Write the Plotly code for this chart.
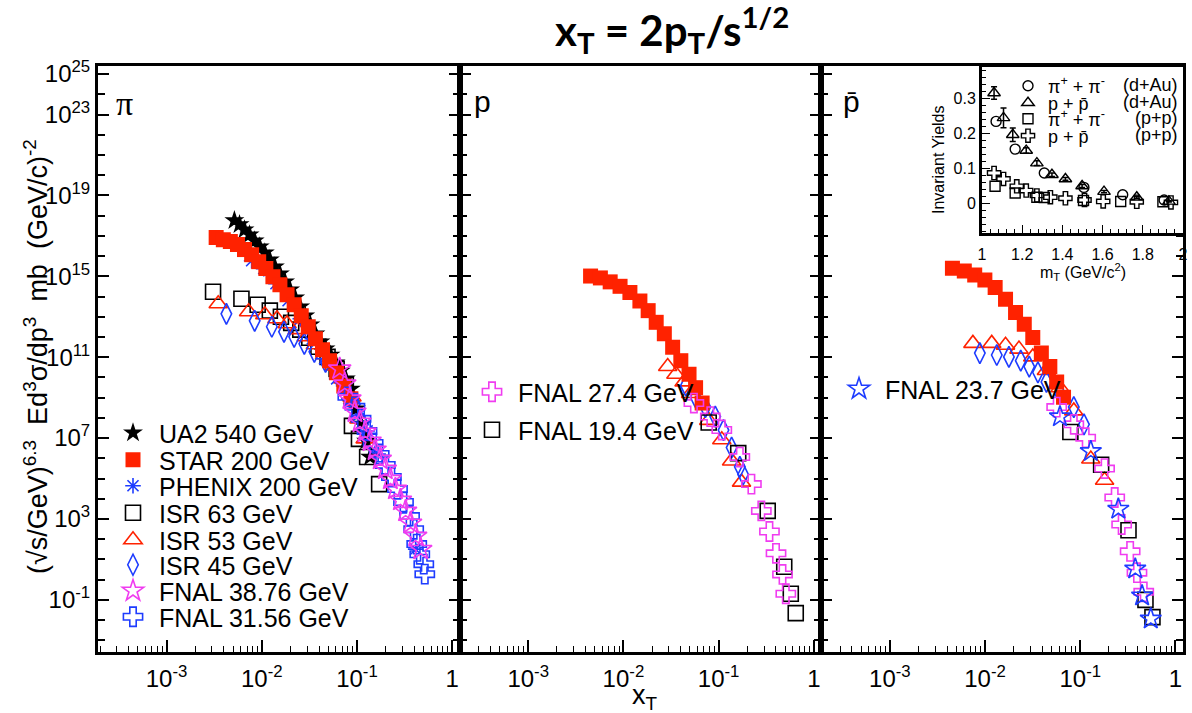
import plotly.graph_objects as go

# ---------------- data ----------------
# Panel 1 : pi
ua2_x = [5.16e-3, 5.84e-3, 6.59e-3, 7.45e-3, 8.43e-3, 9.53e-3, 1.077e-2, 1.216e-2, 1.374e-2, 1.552e-2,
         1.757e-2, 1.986e-2, 2.244e-2, 2.535e-2, 2.864e-2, 3.243e-2, 3.664e-2, 4.140e-2, 4.677e-2, 5.284e-2,
         5.98e-2, 6.76e-2, 7.64e-2, 8.63e-2, 9.75e-2, 0.1104, 0.1247, 0.1374]
ua2_y = [5.7e17, 3.6e17, 2.0e17, 1.15e17, 5.8e16, 2.9e16, 1.47e16, 6.6e15, 3.0e15, 1.35e15,
         5.4e14, 2.17e14, 8.7e13, 3.1e13, 1.12e13, 4.0e12, 1.44e12, 5.8e11, 2.6e11, 1.3e11,
         5.3e10, 2.1e10, 8.5e9, 2.7e9, 2.8e8, 5e7, 7.2e6, 1.16e6]

star_pi_x = [3.32e-3, 3.95e-3, 4.68e-3, 5.56e-3, 6.59e-3, 7.83e-3, 9.29e-3, 1.104e-2, 1.31e-2, 1.552e-2,
             1.845e-2, 2.19e-2, 2.60e-2, 3.08e-2, 3.66e-2, 4.35e-2, 5.16e-2, 6.12e-2, 7.28e-2, 8.63e-2]
star_pi_y = [8.2e16, 6.5e16, 5.2e16, 3.7e16, 2.1e16, 1.17e16, 5.3e15, 2.4e15, 9.5e14, 3.8e14,
             1.23e14, 3.9e13, 1.12e13, 3.2e12, 8.1e11, 2.3e11, 6.6e10, 1.68e10, 3.8e9, 8.7e8]

phenix_x = [7.83e-3, 1.05e-2, 1.41e-2, 1.89e-2, 2.54e-2, 3.40e-2, 4.57e-2, 6.12e-2, 8.22e-2, 0.1026, 0.128, 0.167, 0.414]
phenix_y = [5.9e15, 2.4e15, 4.3e14, 6.2e13, 7.9e12, 8.1e11, 8.3e10, 8.5e9, 8.7e8, 1.25e8, 2.25e7, 1.64e6, 32]

isr63_x = [3.08e-3, 6.12e-3, 9.06e-3, 1.216e-2, 1.59e-2, 2.04e-2, 2.54e-2, 3.16e-2, 3.94e-2, 4.91e-2,
           6.12e-2, 7.64e-2, 8.86e-2, 0.105, 0.128, 0.171]
isr63_y = [1.73e14, 7.8e13, 3.9e13, 2.0e13, 1.0e13, 5.0e12, 2.3e12, 9.1e11, 3.3e11, 1.04e11,
           2.65e10, 4.3e9, 4.0e7, 9.1e6, 1.16e6, 5.3e4]

isr53_x = [3.49e-3, 7.28e-3, 1.077e-2, 1.445e-2, 1.845e-2, 2.36e-2, 2.94e-2, 3.66e-2, 4.57e-2, 5.69e-2,
           7.10e-2, 8.86e-2, 0.105, 0.122]
isr53_y = [4.4e13, 1.77e13, 1.25e13, 7.9e12, 4.5e12, 2.3e12, 1.02e12, 4.1e11, 1.31e11, 3.7e10,
           8.5e9, 1.09e9, 8.9e7, 9.1e6]

isr45_x = [4.25e-3, 8.43e-3, 1.276e-2, 1.714e-2, 2.19e-2, 2.80e-2, 3.57e-2, 4.68e-2, 6.12e-2, 7.64e-2,
           9.53e-2, 0.116, 0.141]
isr45_y = [1.40e13, 6.3e12, 3.2e12, 1.8e12, 1.02e12, 4.6e11, 1.85e11, 5.9e10, 1.5e10, 3.4e9,
           4.9e8, 5.0e7, 5.1e6]

fnal38_x = [6.59e-2, 7.45e-2, 8.43e-2, 9.53e-2, 0.1077, 0.1216, 0.1374, 0.1552, 0.1757, 0.1986,
            0.2244, 0.2535, 0.2864, 0.3243, 0.3664, 0.4140, 0.4677]
fnal38_y = [2.65e10, 4.8e9, 8.7e8, 1.97e8, 6.3e7, 2.0e7, 7.2e6, 2.6e6, 9.2e5, 2.95e5,
            9.4e4, 3.0e4, 8.6e3, 2.45e3, 6.3e2, 1.42e2, 32]

fnal31_x = [8.02e-2, 9.53e-2, 0.1104, 0.1276, 0.148, 0.1714, 0.1986, 0.230, 0.2667, 0.3083,
            0.357, 0.3945, 0.4246, 0.457, 0.5035, 0.516]
fnal31_y = [1.09e9, 3.5e8, 8.9e7, 2.25e7, 5.7e6, 1.64e6, 4.7e5, 1.19e5, 3.0e4, 6.9e3,
            1.39e3, 3.1e2, 57, 18, 5.8, 1.86]

# Panel 2 : p
star_p_x = [4.52e-3, 5.73e-3, 7.26e-3, 9.22e-3, 1.17e-2, 1.49e-2, 1.82e-2, 2.21e-2, 2.69e-2, 3.29e-2,
            4.01e-2, 4.89e-2, 5.73e-2, 6.71e-2]
star_p_y = [1.03e15, 8.3e14, 5.3e14, 3.2e14, 1.58e14, 6.0e13, 2.0e13, 5.3e12, 1.44e12, 3.1e11,
            6.7e10, 1.43e10, 3.1e9, 5.4e8]
isr53_p_x = [2.92e-2, 3.56e-2, 4.34e-2, 5.08e-2, 7.87e-2, 0.108, 0.137, 0.174]
isr53_p_y = [3.45e10, 1.43e10, 6.0e9, 1.6e9, 7.5e7, 8.3e6, 7.4e5, 6.6e4]
isr45_p_x = [4.52e-2, 5.73e-2, 7.26e-2, 9.22e-2, 0.1125, 0.137, 0.167, 0.181]
isr45_p_y = [3.9e9, 1.03e9, 3.4e8, 1.15e8, 2.5e7, 3.4e6, 3.8e5, 1.6e5]
fnal19_p_x = [7.87e-2, 0.1607, 0.328, 0.489, 0.573, 0.646]
fnal19_p_y = [5.9e7, 1.8e6, 2.5e3, 4.3, 0.2, 0.022]
fnal27_p_x = [5.5e-2, 8.18e-2, 0.108, 0.167, 0.221, 0.281, 0.342, 0.401, 0.469, 0.508]
fnal27_p_y = [5.4e8, 1.15e8, 2.5e7, 1.15e6, 5.3e4, 2.5e3, 2.4e2, 20, 1.8, 0.2]

# Panel 3 : pbar
star_pb_x = [4.54e-3, 6.05e-3, 7.78e-3, 9.95e-3, 1.276e-2, 1.64e-2, 2.09e-2, 2.58e-2, 3.17e-2, 3.90e-2,
             4.79e-2, 5.65e-2, 6.67e-2]
star_pb_y = [2.5e15, 1.83e15, 1.17e15, 6.6e14, 2.8e14, 7.4e13, 1.6e13, 4.3e12, 9.3e11, 1.6e11,
             3.45e10, 6.0e9, 1.03e9]
isr53_pb_x = [7.45e-3, 1.175e-2, 1.64e-2, 2.27e-2, 3.17e-2, 4.41e-2, 6.12e-2, 8.55e-2, 0.129, 0.180]
isr53_pb_y = [4.8e11, 4.8e11, 3.9e11, 2.5e11, 1.03e11, 2.2e10, 3.1e9, 2.2e8, 9.2e5, 8.2e4]
isr45_pb_x = [8.81e-3, 1.327e-2, 1.78e-2, 2.37e-2, 2.91e-2, 3.59e-2, 4.41e-2, 6.12e-2, 8.55e-2, 0.1094]
isr45_pb_y = [1.6e11, 1.28e11, 1.03e11, 6.7e10, 3.45e10, 1.78e10, 6.0e9, 1.6e9, 3.4e8, 4.8e7]
fnal27_pb_x = [5.65e-2, 8.55e-2, 0.114, 0.180, 0.230, 0.272, 0.334, 0.394, 0.464]
fnal27_pb_y = [3.4e8, 4.8e7, 1.04e7, 3.1e5, 1.15e4, 5.3e2, 25, 2.2, 0.25]
fnal19_pb_x = [7.87e-2, 0.1656, 0.321, 0.484, 0.573]
fnal19_pb_y = [2.0e7, 4.8e5, 2.75e2, 0.10, 0.014]
fnal23_pb_x = [6.12e-2, 0.129, 0.251, 0.378, 0.446, 0.550]
fnal23_pb_y = [1.15e8, 2.2e6, 3.1e3, 3.4, 0.16, 0.0115]

# Inset : invariant yields vs mT
in_pi_dau_x = [1.07, 1.165, 1.31, 1.507, 1.70, 1.906]
in_pi_dau_y = [0.235, 0.156, 0.088, 0.047, 0.026, 0.011]
in_p_dau_x = [1.06, 1.107, 1.153, 1.22, 1.273, 1.348, 1.415, 1.498, 1.607, 1.77, 1.93]
in_p_dau_y = [0.316, 0.245, 0.197, 0.152, 0.116, 0.083, 0.071, 0.051, 0.035, 0.019, 0.007]
in_p_dau_e = [0.018, 0.028, 0.019, 0.008, 0.007, 0.005, 0.004, 0.004, 0.003, 0.003, 0.002]
in_pi_pp_x = [1.065, 1.165, 1.273, 1.31, 1.505, 1.69, 1.9]
in_pi_pp_y = [0.05, 0.031, 0.019, 0.018, 0.0095, 0.0067, 0.006]
in_p_pp_x = [1.06, 1.107, 1.173, 1.22, 1.273, 1.34, 1.415, 1.51, 1.603, 1.77, 1.94]
in_p_pp_y = [0.088, 0.071, 0.05, 0.038, 0.024, 0.019, 0.016, 0.011, 0.007, 0.006, 0.004]

x_tick_vals = [1e-3, 1e-2, 1e-1, 1]
x_tick_text = ["10<sup>-3</sup>", "10<sup>-2</sup>", "10<sup>-1</sup>", "1"]
y_tick_vals = [1e25, 1e23, 1e19, 1e15, 1e11, 1e7, 1e3, 1e-1]
y_tick_text = ["10<sup>25</sup>", "10<sup>23</sup>", "10<sup>19</sup>", "10<sup>15</sup>",
               "10<sup>11</sup>", "10<sup>7</sup>", "10<sup>3</sup>", "10<sup>-1</sup>"]
inset_x_vals = [1, 1.2, 1.4, 1.6, 1.8, 2]
inset_x_text = ["1", "1.2", "1.4", "1.6", "1.8", "2"]
inset_y_vals = [0, 0.1, 0.2, 0.3]
inset_y_text = ["0", "0.1", "0.2", "0.3"]

# ---------------- styling / layout ----------------
RED = "#ff2200"
BLUE = "#1e3cff"
MAG = "#f03cf0"
BLK = "black"
FONT = "Liberation Sans"

W, H = 1192, 713
ML, MR, MT, MB = 98, 9, 66, 61
PW = W - ML - MR
PH = H - MT - MB


def px(X):
    return (X - ML) / PW


def py(Y):
    return (H - MB - Y) / PH


fig = go.Figure()
legend_cfg = {}


def add(x, y, ax, symbol, color, size, name, legend=None, lw=1.6, err=None):
    kw = {}
    if err is not None:
        kw["error_y"] = dict(type="data", array=err, color=color, thickness=1.5, width=3)
    fig.add_trace(go.Scatter(
        x=x, y=y, mode="markers", name=name, xaxis="x" + ax, yaxis="y" + ax,
        marker=dict(symbol=symbol, size=size, color=color, line=dict(color=color, width=lw)),
        showlegend=legend is not None, legend=(legend or "legend"), **kw))


# panel 1
add(isr63_x, isr63_y, "", "square-open", BLK, 15, "ISR 63 GeV", "legend4")
add(isr53_x, isr53_y, "", "triangle-up-open", RED, 16, "ISR 53 GeV", "legend5")
add(isr45_x, isr45_y, "", "diamond-tall-open", BLUE, 15, "ISR 45 GeV", "legend6")
add(phenix_x, phenix_y, "", "asterisk-open", BLUE, 13, "PHENIX 200 GeV", "legend3")
add(ua2_x, ua2_y, "", "star", BLK, 15, "UA2 540 GeV", "legend", lw=0)
add(star_pi_x, star_pi_y, "", "square", RED, 15, "STAR 200 GeV", "legend2", lw=0)
add(fnal31_x, fnal31_y, "", "cross-open", BLUE, 16, "FNAL 31.56 GeV", "legend8")
add(fnal38_x, fnal38_y, "", "star-open", MAG, 17, "FNAL 38.76 GeV", "legend7")
# panel 2
add(isr53_p_x, isr53_p_y, "2", "triangle-up-open", RED, 16, "ISR 53 GeV")
add(isr45_p_x, isr45_p_y, "2", "diamond-tall-open", BLUE, 15, "ISR 45 GeV")
add(star_p_x, star_p_y, "2", "square", RED, 15, "STAR 200 GeV", lw=0)
add(fnal19_p_x, fnal19_p_y, "2", "square-open", BLK, 15, "FNAL 19.4 GeV", "legend10")
add(fnal27_p_x, fnal27_p_y, "2", "cross-open", MAG, 16, "FNAL 27.4 GeV", "legend9")
# panel 3
add(isr53_pb_x, isr53_pb_y, "3", "triangle-up-open", RED, 16, "ISR 53 GeV")
add(isr45_pb_x, isr45_pb_y, "3", "diamond-tall-open", BLUE, 15, "ISR 45 GeV")
add(star_pb_x, star_pb_y, "3", "square", RED, 15, "STAR 200 GeV", lw=0)
add(fnal19_pb_x, fnal19_pb_y, "3", "square-open", BLK, 15, "FNAL 19.4 GeV")
add(fnal27_pb_x, fnal27_pb_y, "3", "cross-open", MAG, 16, "FNAL 27.4 GeV")
add(fnal23_pb_x, fnal23_pb_y, "3", "star-open", BLUE, 16, "FNAL 23.7 GeV", "legend11")
# inset
add(in_pi_dau_x, in_pi_dau_y, "4", "circle-open", BLK, 10, "π<sup>+</sup> + π<sup>-</sup>", "legend12", lw=1.4)
add(in_p_dau_x, in_p_dau_y, "4", "triangle-up-open", BLK, 11, "p + p\u0304", "legend13", lw=1.4, err=in_p_dau_e)
add(in_pi_pp_x, in_pi_pp_y, "4", "square-open", BLK, 10, "π<sup>+</sup> + π<sup>-</sup>", "legend14", lw=1.4)
add(in_p_pp_x, in_p_pp_y, "4", "cross-open", BLK, 11, "p + p\u0304", "legend15", lw=1.4)

# legends (one entry each, placed like the original); (symbol x, centre y, font size, item width)
leg_pos = {
    "legend": (133, 433, 25, 42), "legend2": (133, 460, 25, 42), "legend3": (133, 486, 25, 42),
    "legend4": (133, 513, 25, 42), "legend5": (133, 540, 25, 42), "legend6": (133, 565, 25, 42),
    "legend7": (133, 591, 25, 42), "legend8": (133, 617, 25, 42),
    "legend9": (492, 392, 25, 42), "legend10": (492, 430, 25, 42), "legend11": (859, 389, 25, 42),
    "legend12": (1028, 86, 18, 30), "legend13": (1028, 103, 18, 30),
    "legend14": (1028, 119, 18, 30), "legend15": (1028, 136, 18, 30),
}
for key, (mx, my, fs, iw) in leg_pos.items():
    legend_cfg[key] = dict(x=px(mx - (iw / 2 + 5)), y=py(my), xanchor="left", yanchor="middle",
                           itemwidth=iw, bgcolor="rgba(0,0,0,0)", borderwidth=0,
                           font=dict(family=FONT, size=fs, color="black"),
                           itemclick=False, itemdoubleclick=False)

XR = [-3.72, 0.079]
YR = [-3.58, 25.4]
x_minor = [m * 10.0 ** d for d in range(-4, 1) for m in range(2, 10)]
y_minor = [10.0 ** d for d in range(-3, 26) if 10.0 ** d not in y_tick_vals]

axes = {}
for i in range(3):
    s = "" if i == 0 else str(i + 1)
    axes["xaxis" + s] = dict(
        domain=[i / 3, (i + 1) / 3], anchor="y" + s, type="log", range=XR,
        showgrid=False, zeroline=False, showline=True, linewidth=3, linecolor="black", mirror=True,
        ticks="inside", ticklen=12, tickwidth=1.5, tickcolor="black",
        tickmode="array", tickvals=x_tick_vals, ticktext=x_tick_text,
        tickfont=dict(family=FONT, size=24, color="black"), ticklabelstandoff=3,
        minor=dict(tickmode="array", tickvals=x_minor, ticks="inside", ticklen=6,
                   tickwidth=1.2, tickcolor="black", showgrid=False))
    axes["yaxis" + s] = dict(
        domain=[0, 1], anchor="x" + s, type="log", range=YR,
        showgrid=False, zeroline=False, showline=True, linewidth=3, linecolor="black", mirror="ticks",
        ticks="inside", ticklen=11, tickwidth=1.5, tickcolor="black",
        tickmode="array", tickvals=y_tick_vals, ticktext=y_tick_text, showticklabels=(i == 0),
        tickfont=dict(family=FONT, size=24, color="black"),
        minor=dict(tickmode="array", tickvals=y_minor, ticks="inside", ticklen=7,
                   tickwidth=1.5, tickcolor="black", showgrid=False))

axes["xaxis4"] = dict(
    domain=[px(982), 1.0], anchor="y4", range=[1, 2],
    showgrid=False, zeroline=False, showline=True, linewidth=3, linecolor="black", mirror=True,
    ticks="inside", ticklen=8, tickwidth=1.2, tickcolor="black",
    tickmode="array", tickvals=inset_x_vals, ticktext=inset_x_text, ticklabeloverflow="allow",
    tickfont=dict(family=FONT, size=16, color="black"), ticklabelstandoff=5,
    minor=dict(dtick=0.04, ticks="inside", ticklen=4, tickwidth=1, tickcolor="black", showgrid=False))
axes["yaxis4"] = dict(
    domain=[py(233), py(67)], anchor="x4", range=[-0.083, 0.39],
    showgrid=False, zeroline=False, showline=True, linewidth=3, linecolor="black", mirror=True,
    ticks="inside", ticklen=8, tickwidth=1.2, tickcolor="black",
    tickmode="array", tickvals=inset_y_vals, ticktext=inset_y_text, ticklabeloverflow="allow",
    tickfont=dict(family=FONT, size=16, color="black"),
    minor=dict(dtick=0.02, ticks="inside", ticklen=4, tickwidth=1, tickcolor="black", showgrid=False))

NB = "\u00a0"
annotations = [
    dict(text="<b>x<sub>T</sub> = 2p<sub>T</sub>/s<sup>1/2</sup></b>", x=px(672), y=py(30),
         font=dict(family="Lato", size=42, color="black")),
    dict(text="(√s/GeV)<sup>6.3</sup>" + NB * 2 + "Ed<sup>3</sup>σ/dp<sup>3</sup>" + NB * 2 + "mb"
              + NB * 2 + "(GeV/c)<sup>-2</sup>",
         x=px(36), y=py(357), textangle=-90, font=dict(family=FONT, size=27, color="black")),
    dict(text="x<sub>T</sub>", x=px(645), y=py(697), font=dict(family=FONT, size=27, color="black")),
    dict(text="π", x=px(124), y=py(103), font=dict(family="Liberation Serif", size=34, color="black")),
    dict(text="p", x=px(482), y=py(101), font=dict(family=FONT, size=30, color="black")),
    dict(text="p\u0304", x=px(851), y=py(101), font=dict(family=FONT, size=30, color="black")),
    dict(text="Invariant Yields", x=px(938), y=py(160), textangle=-90,
         font=dict(family=FONT, size=16, color="black")),
    dict(text="m<sub>T</sub> (GeV/c<sup>2</sup>)", x=px(1083), y=py(272),
         font=dict(family=FONT, size=16, color="black")),
]
for lab, yy in zip(["(d+Au)", "(d+Au)", "(p+p)", "(p+p)"], [85, 102, 118, 135]):
    annotations.append(dict(text=lab, x=px(1180), y=py(yy), xanchor="right",
                            font=dict(family=FONT, size=18, color="black")))
for a in annotations:
    a.setdefault("xref", "paper")
    a.setdefault("yref", "paper")
    a.setdefault("showarrow", False)
    a.setdefault("xanchor", "center")
    a.setdefault("yanchor", "middle")

fig.update_layout(
    width=W, height=H, margin=dict(l=ML, r=MR, t=MT, b=MB, autoexpand=False),
    paper_bgcolor="white", plot_bgcolor="white",
    font=dict(family=FONT, color="black"),
    annotations=annotations,
    shapes=[dict(type="rect", xref="x4", yref="y4", x0=1, x1=2, y0=-0.083, y1=0.39,
                 fillcolor="white", line=dict(width=0), layer="below")],
    **axes, **legend_cfg)

fig.write_html("out.html", config={"displayModeBar": False},
               post_script="document.body.style.margin='0px';document.body.style.overflow='hidden';")
